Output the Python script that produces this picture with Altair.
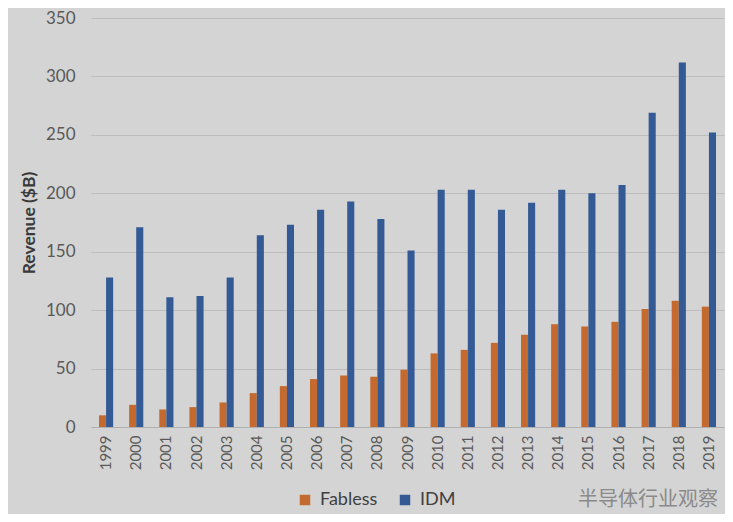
import altair as alt
import pandas as pd

years = [str(y) for y in range(1999, 2020)]
fabless = [10, 19, 15, 17, 21, 29, 35, 41, 44, 43, 49, 63, 66, 72, 79, 88, 86, 90, 101, 108, 103]
idm = [128, 171, 111, 112, 128, 164, 173, 186, 193, 178, 151, 203, 203, 186, 192, 203, 200, 207, 269, 312, 252]
series = ["Fabless", "IDM"]
colors = ["#c46a2e", "#335a94"]

rows = []
for i, y in enumerate(years):
    rows.append({"Year": y, "Type": "Fabless", "Revenue": fabless[i]})
    rows.append({"Year": y, "Type": "IDM", "Revenue": idm[i]})
df = pd.DataFrame(rows)

FONT = "Lato"

bars = alt.Chart(df).mark_bar().encode(
    x=alt.X("Year:N", sort=years,
            scale=alt.Scale(paddingInner=0.53, paddingOuter=0.265),
            axis=alt.Axis(title=None, labelAngle=-90, labelFontSize=15, labelColor="#595959",
                          labelPadding=8, ticks=False, domainColor="#b0b0b0", labelFont=FONT,
                          labelBaseline="middle", labelAlign="right")),
    xOffset=alt.XOffset("Type:N", sort=series),
    y=alt.Y("Revenue:Q", scale=alt.Scale(domain=[0, 350]),
            axis=alt.Axis(title="Revenue ($B)", values=list(range(0, 351, 50)), labelFontSize=17,
                          labelColor="#595959", labelPadding=16, ticks=False, domain=False,
                          gridColor="#bdbdbd", titleFontSize=17.5, titleFontWeight="bold",
                          titleColor="#3a3a3a", titlePadding=7, labelFont=FONT, titleFont=FONT)),
    color=alt.Color("Type:N", sort=series, scale=alt.Scale(domain=series, range=colors),
                    legend=alt.Legend(title=None, orient="none", legendX=205, legendY=473,
                                      direction="horizontal", symbolType="square", symbolSize=110,
                                      labelFontSize=18, labelColor="#404040", labelFont=FONT,
                                      columnPadding=18, labelOffset=6, symbolStrokeWidth=0)),
)

wm = alt.Chart(pd.DataFrame({"t": ["半导体行业观察"]})).mark_text(
    font="Noto Sans CJK SC", fontSize=20, color="#8a8a8a", align="right", baseline="middle"
).encode(text="t:N", x=alt.value(627), y=alt.value(482))

chart = alt.layer(bars, wm).properties(
    width=633, height=409, background="#d4d4d4",
    autosize=alt.AutoSizeParams(type="none"),
    padding={"left": 83, "top": 10, "right": 1, "bottom": 87},
).configure_view(stroke=None)

chart.save("out.html", embed_options={"renderer": "svg", "actions": False})
